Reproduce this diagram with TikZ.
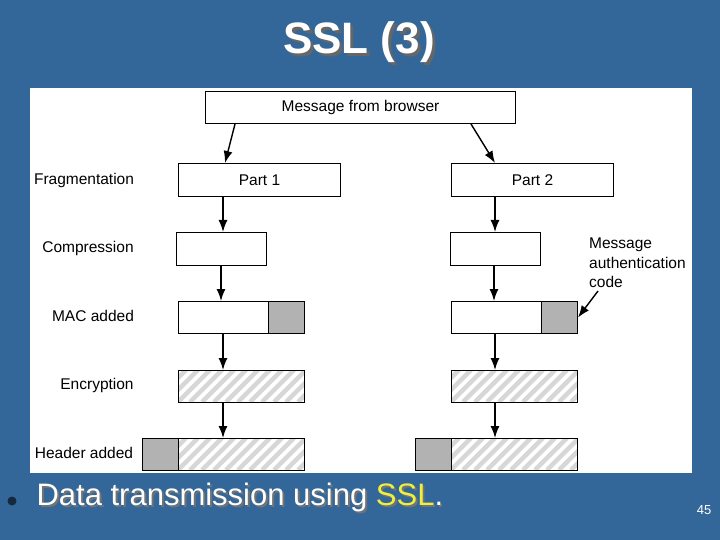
\documentclass[tikz,border=0pt]{standalone}
\usepackage{fontspec}
\setmainfont{Liberation Sans}
\usetikzlibrary{arrows.meta}
\definecolor{bg}{RGB}{52,103,153}
\definecolor{mgray}{RGB}{178,178,178}
\definecolor{hatch}{RGB}{215,215,215}
\definecolor{ssly}{RGB}{240,240,60}
\tikzset{
 box/.style={draw=black, line width=1pt, fill=white, inner sep=0pt, anchor=north west},
 gbox/.style={box, fill=mgray},
 lab/.style={font=\fontsize{15.5}{17}\selectfont, align=left, inner sep=0pt},
 arr/.style={-{Latex[length=12pt,width=9pt]}, line width=1.4pt},
}
\newcommand{\hatchbox}[5]{% name, x1, y1, x2, y2
 \begin{scope}
 \clip (#2,#3) rectangle (#4,#5);
 \fill[white] (#2,#3) rectangle (#4,#5);
 \foreach \i in {-60,-48,...,200} {
   \draw[hatch, line width=4.5pt] ({#2+\i},#5) -- ({#2+\i+32},#3);
 }
 \end{scope}
 \node[draw=black, line width=1pt, inner sep=0pt, minimum width={(#4-#2)*1pt}, minimum height={(#5-#3)*1pt}, anchor=north west] (#1) at (#2,#3) {};
}
\begin{document}
\begin{tikzpicture}[x=1pt,y=-1pt]
\fill[bg] (0,0) rectangle (720,540);
\useasboundingbox (0,0) rectangle (720,540);
\fill[white] (30,88) rectangle (692,473);
% title
\node[font=\bfseries\fontsize{44}{48}\selectfont, text=black!60] at (362,45) {SSL (3)};
\node[font=\bfseries\fontsize{44}{48}\selectfont, text=white] (title) at (359,42) {SSL (3)};
% top
\node[box, minimum width=310pt, minimum height=32pt, lab] (msg) at (205,91) {Message from browser};
\node[box, minimum width=162pt, minimum height=33pt, lab] (p1) at (178,163) {Part 1};
\node[box, minimum width=162pt, minimum height=33pt, lab] (p2) at (451,163) {Part 2};
\node[box, minimum width=90pt, minimum height=33pt] (c1) at (176,232) {};
\node[box, minimum width=90pt, minimum height=33pt] (c2) at (450,232) {};
\node[box, minimum width=90pt, minimum height=32pt] (m1) at (178,301) {};
\node[gbox, minimum width=36pt, minimum height=32pt] (m1g) at (268,301) {};
\node[box, minimum width=90pt, minimum height=32pt] (m2) at (451,301) {};
\node[gbox, minimum width=36pt, minimum height=32pt] (m2g) at (541,301) {};
\hatchbox{e1}{178}{370}{304}{402}
\hatchbox{e2}{451}{370}{577}{402}
\node[gbox, minimum width=36pt, minimum height=32pt] (h1g) at (142,438) {};
\hatchbox{h1}{178}{438}{304}{470}
\node[gbox, minimum width=36pt, minimum height=32pt] (h2g) at (415,438) {};
\hatchbox{h2}{451}{438}{577}{470}
% arrows
\draw[arr] ([xshift=30pt]msg.south west) -- ([xshift=47pt]p1.north west);
\draw[arr] ([xshift=-45pt]msg.south east) -- ([xshift=44pt]p2.north west);
\foreach \a/\b in {p1/c1,c1/m1,m1/e1,e1/h1}{\draw[arr] (\a.south west) ++(45pt,0) coordinate (t) -- (t |- \b.north);}
\foreach \a/\b in {p2/c2,c2/m2,m2/e2,e2/h2}{\draw[arr] (\a.south west) ++(44pt,0) coordinate (t) -- (t |- \b.north);}
% left labels
\node[lab] (lf) at (84,180) {Fragmentation};
\node[lab] (lc) at (88,248) {Compression};
\node[lab] (lm) at (93,316) {MAC added};
\node[lab] (le) at (97,385) {Encryption};
\node[lab] (lh) at (84,453) {Header added};
\node[lab, anchor=north west, font=\fontsize{15.5}{19.5}\selectfont] (mac) at (589,238) {Message\\authentication\\code};
\draw[arr] (598,291) -- (m2g.east);
% bottom
\fill[bg!40!black] (12,501) circle (4.5pt);
\node[anchor=west, font=\fontsize{31}{34}\selectfont, text=black!55] at (35,499) {Data transmission using SSL.};
\node[anchor=west, font=\fontsize{31}{34}\selectfont, text=white] (bt) at (33,497) {Data transmission using \textcolor{ssly}{SSL}.};
\node[font=\fontsize{13}{14}\selectfont, text=white] (pg) at (704,510) {45};
\end{tikzpicture}
\end{document}
